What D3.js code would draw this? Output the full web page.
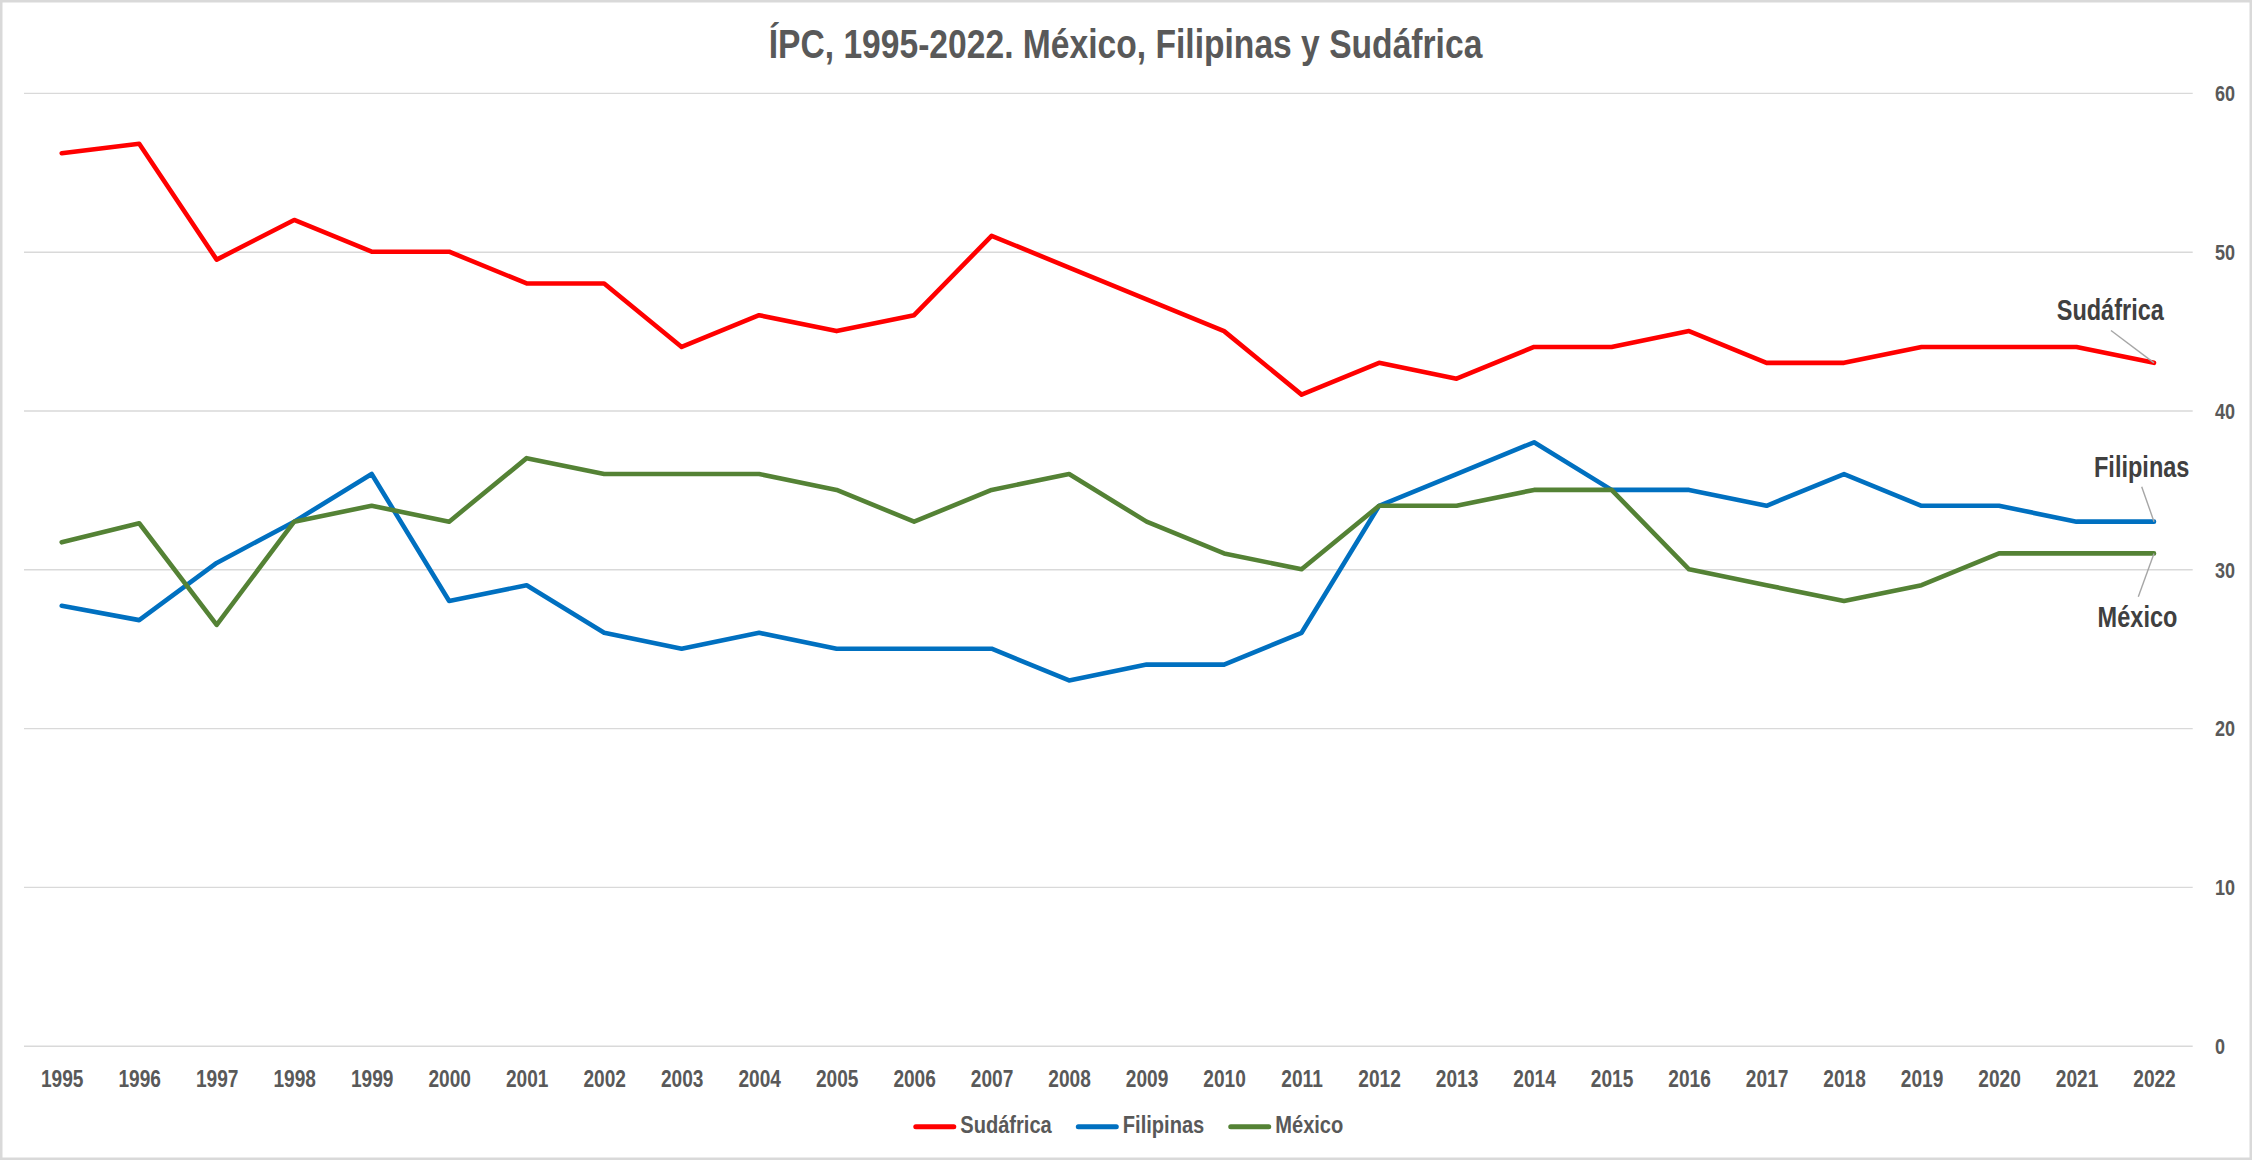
<!DOCTYPE html>
<html>
<head>
<meta charset="utf-8">
<script src="https://cdn.jsdelivr.net/npm/d3@7"></script>
<style>
  html, body { margin: 0; padding: 0; background: #fff; }
  svg { display: block; }
  text { font-family: "Liberation Sans", Arial, "Helvetica", sans-serif; font-weight: bold; }
</style>
</head>
<body>
<svg id="chart" width="2252" height="1160"></svg>
<script>
// ---------- Data ----------
const years = [1995,1996,1997,1998,1999,2000,2001,2002,2003,2004,2005,2006,2007,2008,2009,2010,2011,2012,2013,2014,2015,2016,2017,2018,2019,2020,2021,2022];
const sudafrica = [56.2,56.8,49.5,52,50,50,48,48,44,46,45,46,51,49,47,45,41,43,42,44,44,45,43,43,44,44,44,43];
const filipinas = [27.7,26.8,30.4,33,36,28,29,26,25,26,25,25,25,23,24,24,26,34,36,38,35,35,34,36,34,34,33,33];
const mexico    = [31.7,32.9,26.5,33,34,33,37,36,36,36,35,33,35,36,33,31,30,34,34,35,35,30,29,28,29,31,31,31];
const seriesNames = ["Sudáfrica","Filipinas","México"];
const seriesColors = ["#FF0000","#0070C0","#548235"];
const yTicks = [0,10,20,30,40,50,60];
const title = "ÍPC, 1995-2022. México, Filipinas y Sudáfrica";

const seriesValues = [sudafrica, filipinas, mexico];
const series = seriesNames.map((n,i) => ({name:n, color:seriesColors[i], values:seriesValues[i]}));

// ---------- Layout ----------
const W = 2252, H = 1160;
const NARROW = 0.82; // narrow bold face
const svg = d3.select("#chart");

svg.append("rect").attr("x",1.25).attr("y",1.25).attr("width",W-2.5).attr("height",H-2.5)
  .attr("fill","#fff").attr("stroke","#D9D9D9").attr("stroke-width",2.5);

const plotLeft = 24, plotRight = 2192.7;
const x = d3.scalePoint().domain(years).range([61.7, 2154]);
const y = d3.scaleLinear().domain([0,60]).range([1045.7, 92.9]);

function narrowText(g, px, py, str, size, anchor, fill) {
  return g.append("text")
    .attr("transform", `translate(${px},${py}) scale(${NARROW},1)`)
    .attr("text-anchor", anchor)
    .attr("font-size", size)
    .attr("fill", fill)
    .text(str);
}

// Title
narrowText(svg, 1125.5, 57.7, title, 41, "middle", "#595959");

// Gridlines
const grid = svg.append("g").attr("transform", `translate(${plotLeft},0)`)
  .call(d3.axisLeft(y).tickValues(yTicks).tickSize(-(plotRight-plotLeft)).tickFormat(""));
grid.select(".domain").remove();
grid.selectAll("line").attr("stroke","#D9D9D9").attr("stroke-width",1.4);

// Right Y axis labels
const yAxis = svg.append("g").attr("transform", "translate(2215,0)")
  .call(d3.axisRight(y).tickValues(yTicks).tickSize(0).tickPadding(0));
yAxis.select(".domain").remove();
yAxis.selectAll("text")
  .attr("font-size", 22).attr("font-family", null).attr("fill", "#595959")
  .attr("dy","0.35em")
  .attr("transform", `scale(${NARROW},1)`);

// X axis labels
const xAxis = svg.append("g").attr("transform", "translate(0,1070.2)")
  .call(d3.axisBottom(x).tickSize(0).tickPadding(0));
xAxis.select(".domain").remove();
xAxis.selectAll("text")
  .attr("font-size", 23.3).attr("font-family", null).attr("fill", "#595959")
  .attr("transform", `scale(${NARROW},1)`);

// Lines
const line = d3.line().x((d,i) => x(years[i])).y(d => y(d));
svg.append("g").selectAll("path").data(series).join("path")
  .attr("d", d => line(d.values))
  .attr("fill","none")
  .attr("stroke", d => d.color)
  .attr("stroke-width", 4.6)
  .attr("stroke-linejoin","round")
  .attr("stroke-linecap","round");

// End labels with leader lines (offsets relative to last point)
const endLabelOffsets = {
  "Sudáfrica": {lx: -43.7, ly: -42.6, tx: -43.7, ty: -42.6, cx: -43, cy: -32.3},
  "Filipinas": {tx: -12.3, ty: -45, cx: -12.3, cy: -35},
  "México":    {tx: -16.5, ty: 73.3, cx: -15.7, cy: 43.3}
};
const lastIdx = years.length - 1;
series.forEach(s => {
  const o = endLabelOffsets[s.name];
  const px = x(years[lastIdx]), py = y(s.values[lastIdx]);
  svg.append("line")
    .attr("x1", px).attr("y1", py)
    .attr("x2", px + o.cx).attr("y2", py + o.cy)
    .attr("stroke","#A6A6A6").attr("stroke-width",1.4);
  narrowText(svg, px + o.tx, py + o.ty, s.name, 28.7, "middle", "#404040");
});

// Legend
const legendG = svg.append("g");
const legFont = 24.5, symW = 43, symGap = 4, itemGap = 24;
let cursor = 0;
const items = [];
series.forEach(s => {
  const t = narrowText(legendG, 0, 1133.3, s.name, legFont, "start", "#595959");
  const w = t.node().getComputedTextLength() * NARROW;
  items.push({s, t, w, start: cursor});
  cursor += symW + symGap + w + itemGap;
});
const totalW = cursor - itemGap;
const legStart = 1128.3 - totalW/2;
items.forEach(it => {
  const x0 = legStart + it.start;
  legendG.append("line")
    .attr("x1", x0 + 2.5).attr("x2", x0 + symW - 2.5)
    .attr("y1", 1126.7).attr("y2", 1126.7)
    .attr("stroke", it.s.color).attr("stroke-width", 5).attr("stroke-linecap","round");
  it.t.attr("transform", `translate(${x0 + symW + symGap},1133.3) scale(${NARROW},1)`);
});
</script>
</body>
</html>
